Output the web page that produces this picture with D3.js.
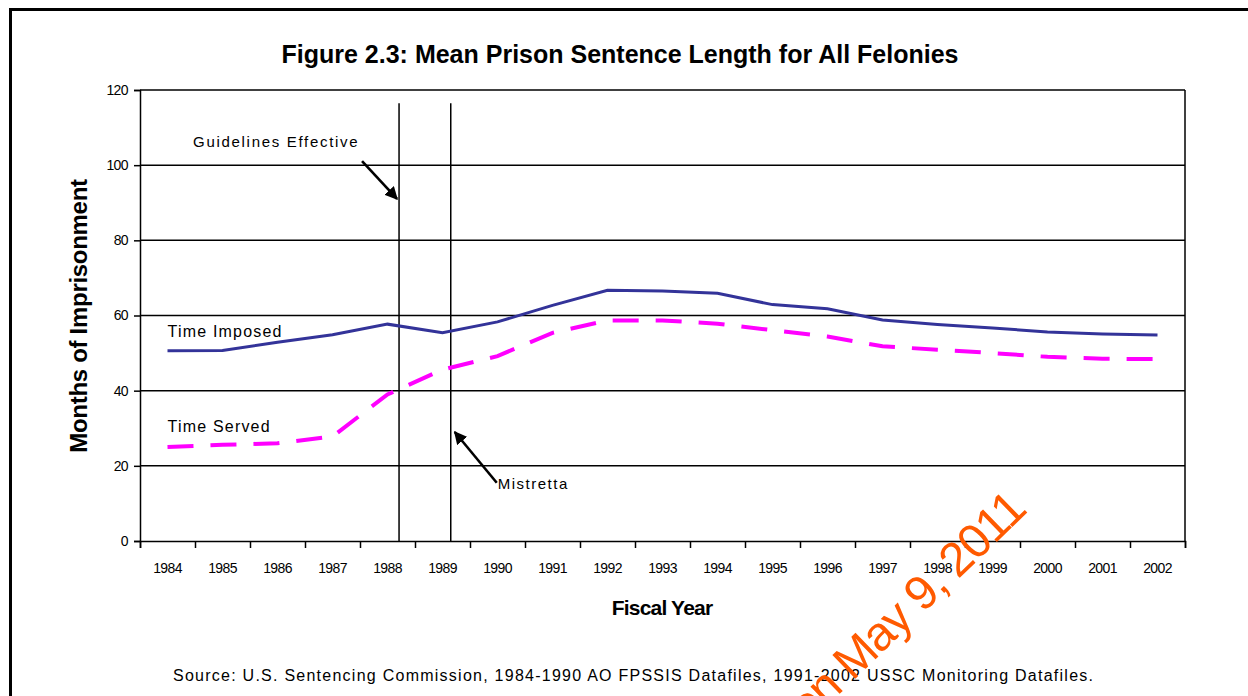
<!DOCTYPE html>
<html>
<head>
<meta charset="utf-8">
<script src="https://cdn.jsdelivr.net/npm/d3@7"></script>
<style>
  body { margin: 0; background: #fff; }
  svg { display: block; font-family: "Liberation Sans", Arial, sans-serif; }
</style>
</head>
<body>
<svg id="chart" width="1248" height="696"></svg>
<script>
// data (months)
const years = ["1984", "1985", "1986", "1987", "1988", "1989", "1990", "1991", "1992", "1993",
               "1994", "1995", "1996", "1997", "1998", "1999", "2000", "2001", "2002"];
const timeImposed = [50.6, 50.7, 52.9, 54.9, 57.7, 55.4, 58.3, 62.7, 66.7, 66.5,
                     65.9, 62.9, 61.8, 58.8, 57.6, 56.7, 55.6, 55.1, 54.8];
const timeServed = [25.0, 25.6, 26.0, 27.8, 39.0, 45.6, 49.2, 55.4, 58.7, 58.7,
                    57.8, 56.1, 54.4, 51.8, 50.9, 50.0, 49.0, 48.5, 48.4];
const yTicks = [0, 20, 40, 60, 80, 100, 120];
const eventNames = ["Guidelines Effective", "Mistretta"];
const eventYears = [1988.21, 1989.15];

var svg = d3.select("#chart");
var margin = {top: 90, right: 63, bottom: 155, left: 140};
var innerWidth = +svg.attr("width") - margin.left - margin.right;
var innerHeight = +svg.attr("height") - margin.top - margin.bottom;

svg.append("rect").attr("width", 1248).attr("height", 696).attr("fill", "#fff");

// outer frame (top and left edges visible)
svg.append("path")
    .attr("d", "M10.5,700 L10.5,9.5 L1250,9.5")
    .attr("fill", "none")
    .attr("stroke", "#000")
    .attr("stroke-width", 3);

var g = svg.append("g")
    .attr("transform", "translate(" + margin.left + "," + margin.top + ")");

var x = d3.scaleBand().domain(years).range([0, innerWidth]).padding(0);
var xYear = d3.scaleLinear().domain([1983.5, 2002.5]).range([0, innerWidth]);
var y = d3.scaleLinear().domain([0, 120]).range([innerHeight, 0]);
var cx = function(i) { return x(years[i]) + x.bandwidth() / 2; };

// gridlines
g.append("g")
    .selectAll("line")
    .data(yTicks.filter(d => d > 0))
    .enter().append("line")
    .attr("x1", 0).attr("x2", innerWidth)
    .attr("y1", d => y(d)).attr("y2", d => y(d))
    .attr("stroke", "#000").attr("stroke-width", 1.5);

// right border of plot
g.append("line")
    .attr("x1", innerWidth).attr("x2", innerWidth)
    .attr("y1", 0).attr("y2", innerHeight)
    .attr("stroke", "#000").attr("stroke-width", 1.5);

// y axis
var yAxis = g.append("g")
    .call(d3.axisLeft(y).tickValues(yTicks).tickSize(6).tickPadding(6));
yAxis.select(".domain").attr("stroke-width", 1.5);
yAxis.selectAll(".tick line").attr("stroke-width", 1.5);
yAxis.selectAll("text")
    .style("font-size", "14px")
    .style("font-family", "'Liberation Sans', Arial, sans-serif")
    .attr("fill", "#000")
    .attr("letter-spacing", "-0.6");

// x axis: ticks between categories
var boundaries = [1983.5].concat(years.map(d => +d + 0.5));
var xAxis = g.append("g")
    .attr("transform", "translate(0," + innerHeight + ")")
    .call(d3.axisBottom(xYear).tickValues(boundaries).tickSize(7).tickFormat(""));
xAxis.select(".domain").attr("stroke-width", 1.5);
xAxis.selectAll(".tick line").attr("stroke-width", 1.5);

g.append("g")
    .selectAll("text")
    .data(years)
    .enter().append("text")
    .attr("x", d => x(d) + x.bandwidth() / 2)
    .attr("y", innerHeight + 32)
    .attr("text-anchor", "middle")
    .attr("font-size", 14)
    .attr("letter-spacing", "-0.6")
    .text(d => d);

// event lines
g.append("g")
    .selectAll("line")
    .data(eventYears)
    .enter().append("line")
    .attr("x1", d => xYear(d)).attr("x2", d => xYear(d))
    .attr("y1", y(116.5)).attr("y2", innerHeight)
    .attr("stroke", "#000").attr("stroke-width", 1.5);

// series
var line = d3.line()
    .x((d, i) => cx(i))
    .y(d => y(d));

g.append("path")
    .datum(timeImposed)
    .attr("d", line)
    .attr("fill", "none")
    .attr("stroke", "#333399")
    .attr("stroke-width", 3);

g.append("path")
    .datum(timeServed)
    .attr("d", line)
    .attr("fill", "none")
    .attr("stroke", "#ff00ff")
    .attr("stroke-width", 4)
    .attr("stroke-dasharray", "26,17");

// series labels
g.append("text")
    .attr("x", cx(0)).attr("y", y(timeImposed[0]) - 14)
    .attr("font-size", 16).attr("letter-spacing", "1.2")
    .text("Time Imposed");
g.append("text")
    .attr("x", cx(0)).attr("y", y(timeServed[0]) - 15)
    .attr("font-size", 16).attr("letter-spacing", "1.2")
    .text("Time Served");

// arrows
var defs = svg.append("defs");
defs.append("marker")
    .attr("id", "head")
    .attr("viewBox", "0 0 10 10")
    .attr("refX", 9).attr("refY", 5)
    .attr("markerWidth", 5).attr("markerHeight", 5)
    .attr("markerUnits", "strokeWidth")
    .attr("orient", "auto")
    .append("path")
    .attr("d", "M0,0 L10,5 L0,10 z")
    .attr("fill", "#000");

var gx = xYear(eventYears[0]);
g.append("text")
    .attr("x", gx - 206).attr("y", y(100) - 18)
    .attr("font-size", 15).attr("letter-spacing", "1.7")
    .text(eventNames[0]);
g.append("line")
    .attr("x1", gx - 37).attr("y1", y(100) - 4)
    .attr("x2", gx - 2).attr("y2", y(91))
    .attr("stroke", "#000").attr("stroke-width", 2.6)
    .attr("marker-end", "url(#head)");

var mx = xYear(eventYears[1]);
g.append("text")
    .attr("x", mx + 47).attr("y", y(13.8))
    .attr("font-size", 15).attr("letter-spacing", "1.5")
    .text(eventNames[1]);
g.append("line")
    .attr("x1", mx + 46).attr("y1", y(15.5))
    .attr("x2", mx + 4).attr("y2", y(29))
    .attr("stroke", "#000").attr("stroke-width", 2.6)
    .attr("marker-end", "url(#head)");

// titles
svg.append("text")
    .attr("x", 620).attr("y", 63)
    .attr("text-anchor", "middle")
    .attr("font-size", 25).attr("font-weight", "bold")
    .attr("letter-spacing", "0")
    .text("Figure 2.3: Mean Prison Sentence Length for All Felonies");

svg.append("text")
    .attr("transform", "translate(87,316) rotate(-90)")
    .attr("text-anchor", "middle")
    .attr("font-size", 24).attr("font-weight", "bold")
    .attr("letter-spacing", "-0.3")
    .text("Months of Imprisonment");

svg.append("text")
    .attr("x", 662).attr("y", 615)
    .attr("text-anchor", "middle")
    .attr("font-size", 21).attr("font-weight", "bold")
    .attr("letter-spacing", "-0.8")
    .text("Fiscal Year");

svg.append("text")
    .attr("x", 173).attr("y", 681)
    .attr("font-size", 16)
    .attr("textLength", 920).attr("lengthAdjust", "spacing")
    .text("Source: U.S. Sentencing Commission, 1984-1990 AO FPSSIS Datafiles, 1991-2002 USSC Monitoring Datafiles.");

// watermark
svg.append("text")
    .attr("transform", "translate(1028,512) rotate(-44)")
    .attr("text-anchor", "end")
    .attr("font-size", 48)
    .attr("letter-spacing", "-1.5")
    .attr("fill", "#ff5a00")
    .text("Archived on May 9, 2011");
</script>
</body>
</html>
